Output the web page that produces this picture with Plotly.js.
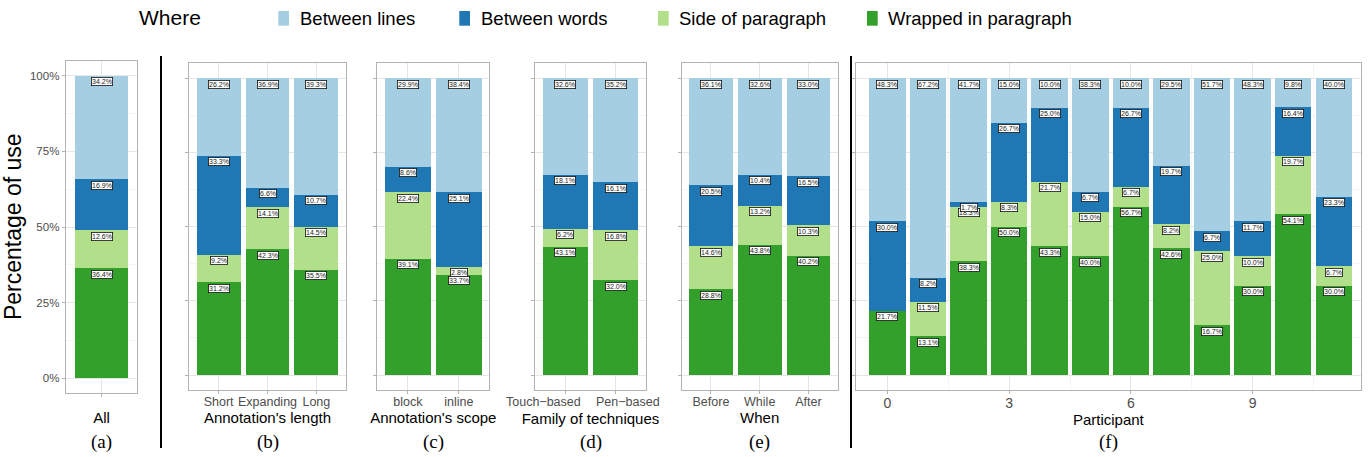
<!DOCTYPE html>
<html><head><meta charset="utf-8">
<script src="https://cdn.plot.ly/plotly-3.0.1.min.js"></script>
<style>html,body{margin:0;padding:0;background:#fff}#chart{width:1369px;height:457px}</style>
</head><body><div id="chart"></div>
<script>
// ---------- data ----------
const seriesNames = ['Wrapped in paragraph', 'Side of paragraph', 'Between words', 'Between lines']; // bottom -> top
const legendOrder = ['Between lines', 'Between words', 'Side of paragraph', 'Wrapped in paragraph'];
const seriesColors = {'Wrapped in paragraph':'#33a02c','Side of paragraph':'#b2df8a','Between words':'#1f78b4','Between lines':'#a6cee3'};

const catA = ['All'];
const wrappedA = [36.4];
const sideA    = [12.6];
const wordsA   = [16.9];
const linesA   = [34.2];

const catB = ['Short', 'Expanding', 'Long'];
const wrappedB = [31.2, 42.3, 35.5];
const sideB    = [9.2, 14.1, 14.5];
const wordsB   = [33.3, 6.6, 10.7];
const linesB   = [26.2, 36.9, 39.3];

const catC = ['block', 'inline'];
const wrappedC = [39.1, 33.7];
const sideC    = [22.4, 2.8];
const wordsC   = [8.6, 25.1];
const linesC   = [29.9, 38.4];

const catD = ['Touch\u2212based', 'Pen\u2212based'];
const wrappedD = [43.1, 32.0];
const sideD    = [6.2, 16.8];
const wordsD   = [18.1, 16.1];
const linesD   = [32.6, 35.2];

const catE = ['Before', 'While', 'After'];
const wrappedE = [28.8, 43.8, 40.2];
const sideE    = [14.6, 13.2, 10.3];
const wordsE   = [20.5, 10.4, 16.5];
const linesE   = [36.1, 32.6, 33.0];

const participants = [0, 1, 2, 3, 4, 5, 6, 7, 8, 9, 10, 11];
const wrappedF = [21.7, 13.1, 38.3, 50.0, 43.3, 40.0, 56.7, 42.6, 16.7, 30.0, 54.1, 30.0];
const sideF    = [0, 11.5, 18.3, 8.3, 21.7, 15.0, 6.7, 8.2, 25.0, 10.0, 19.7, 6.7];
const wordsF   = [30.0, 8.2, 1.7, 26.7, 25.0, 6.7, 26.7, 19.7, 6.7, 11.7, 16.4, 23.3];
const linesF   = [48.3, 67.2, 41.7, 15.0, 10.0, 38.3, 10.0, 29.5, 51.7, 48.3, 9.8, 40.0];
const participantTicks = [0, 3, 6, 9];
const percentTicks = [0, 25, 50, 75, 100];

const axisTitles = ['All', "Annotation's length", "Annotation's scope", 'Family of techniques', 'When', 'Participant'];
const panelTags = ['(a)', '(b)', '(c)', '(d)', '(e)', '(f)'];

// ---------- layout geometry (pixels) ----------
const W = 1369, H = 457;
const fx = p => p / W, fy = p => 1 - p / H;
const panels = [
  {cats: catA, vals: [wrappedA, sideA, wordsA, linesA], box: [65.7, 137.3, 60.7, 392.7], yr: [-4.76, 104.96], standoff: 16},
  {cats: catB, vals: [wrappedB, sideB, wordsB, linesB], box: [189.3, 345.7, 63, 390], yr: [-5.05, 105.05], standoff: 0},
  {cats: catC, vals: [wrappedC, sideC, wordsC, linesC], box: [377.3, 489.3, 63, 390], yr: [-5.05, 105.05], standoff: 0},
  // tick labels of (d) are nudged apart (as in the reference) so they do not collide
  {cats: catD, vals: [wrappedD, sideD, wordsD, linesD], box: [535.3, 645.7, 63, 390], yr: [-5.05, 105.05], standoff: 20,
   nudged: [{x: 0.35, anchor: 'right'}, {x: 0.57, anchor: 'left'}]},
  {cats: catE, vals: [wrappedE, sideE, wordsE, linesE], box: [681.7, 837.7, 63, 390], yr: [-5.05, 105.05], standoff: 0},
  {cats: participants, vals: [wrappedF, sideF, wordsF, linesF], box: [855.7, 1361, 63, 390], yr: [-5.05, 105.05], standoff: 0, linear: true}
];

const FONT = 'Liberation Sans, Arial, Helvetica, sans-serif';
const GRID = '#e6e6e6', MINOR = '#eeeeee', BORDER = '#b3b3b3', TICKTXT = '#4d4d4d';

const data = [];
const layout = {
  width: W, height: H,
  margin: {l: 0, r: 0, t: 0, b: 0, pad: 0},
  paper_bgcolor: '#fff', plot_bgcolor: '#fff',
  barmode: 'stack', barnorm: 'percent', bargap: 0.1,
  showlegend: false,
  font: {family: FONT, color: '#000'},
  annotations: [], shapes: []
};

panels.forEach((p, i) => {
  const s = i === 0 ? '' : String(i + 1);
  const xa = 'x' + s, ya = 'y' + s;
  p.vals.forEach((v, k) => {
    data.push({
      type: 'bar', x: p.cats, y: v, xaxis: xa, yaxis: ya,
      name: seriesNames[k], marker: {color: seriesColors[seriesNames[k]], line: {width: 0}},
      hoverinfo: 'skip'
    });
  });
  p.cats.forEach((c, j) => {
    const total = p.vals.reduce((a, v) => a + v[j], 0);
    let cum = 0;
    p.vals.forEach(v => {
      cum += v[j];
      if (v[j] > 0) {
        layout.annotations.push({
          xref: xa, yref: ya, x: c, y: cum / total * 100, yanchor: 'top', xanchor: 'center', yshift: -1.5,
          text: v[j].toFixed(1) + '%', showarrow: false,
          font: {size: 7, family: FONT, color: '#222'},
          bgcolor: '#fff', bordercolor: '#111', borderwidth: 0.8, borderpad: 0.3
        });
      }
    });
  });
  const [x0, x1, y0, y1] = p.box;
  const n = p.cats.length;
  const showTL = i !== 0 && !p.nudged;
  const xa_cfg = {
    domain: [fx(x0), fx(x1)], anchor: ya,
    type: p.linear ? 'linear' : 'category',
    range: p.linear ? [-0.78, 11.67] : [-0.6, n - 0.4],
    showline: true, mirror: true, linecolor: BORDER, linewidth: 1,
    showgrid: true, gridcolor: GRID, gridwidth: 1, zeroline: false,
    ticks: 'outside', ticklen: 3, tickcolor: BORDER, tickwidth: 1, tickangle: 0,
    ticklabelstandoff: -3,
    showticklabels: showTL,
    tickfont: {size: p.linear ? 14 : 12.5, color: TICKTXT, family: FONT},
    title: {text: axisTitles[i], font: {size: 15, color: '#000', family: FONT}, standoff: p.standoff},
    fixedrange: true
  };
  if (p.linear) {
    xa_cfg.tickmode = 'array';
    xa_cfg.tickvals = participantTicks;
    xa_cfg.minor = {dtick: 1.5, tick0: 0, showgrid: true, gridcolor: MINOR, gridwidth: 0.6};
  }
  if (p.nudged) {
    p.cats.forEach((c, j) => layout.annotations.push({
      xref: xa, yref: 'paper', x: p.nudged[j].x, y: fy(402), xanchor: p.nudged[j].anchor, yanchor: 'middle',
      text: c, showarrow: false, font: {size: 12.5, color: TICKTXT, family: FONT}
    }));
  }
  layout['xaxis' + s] = xa_cfg;
  layout['yaxis' + s] = {
    domain: [fy(y1), fy(y0)], anchor: xa,
    range: p.yr, tickmode: 'array', tickvals: percentTicks, ticktext: percentTicks.map(t => t + '%'),
    showline: true, mirror: true, linecolor: BORDER, linewidth: 1,
    showgrid: true, gridcolor: GRID, gridwidth: 1, zeroline: false,
    minor: {dtick: 12.5, tick0: 0, showgrid: true, gridcolor: MINOR, gridwidth: 0.6},
    ticks: 'outside', ticklen: 3, tickcolor: BORDER, tickwidth: 1,
    showticklabels: i === 0,
    tickfont: {size: 11.5, color: TICKTXT, family: FONT},
    title: i === 0 ? {text: 'Percentage of use', font: {size: 23, color: '#000', family: FONT}, standoff: 5} : {text: ''},
    fixedrange: true
  };
  layout.annotations.push({
    xref: 'paper', yref: 'paper', x: fx((x0 + x1) / 2), y: fy(441.5), xanchor: 'center', yanchor: 'middle',
    text: panelTags[i], showarrow: false, font: {size: 19, family: 'Liberation Serif, Times New Roman, serif', color: '#000'}
  });
});

[161, 851].forEach(x => layout.shapes.push({
  type: 'line', xref: 'paper', yref: 'paper', x0: fx(x), x1: fx(x), y0: fy(56), y1: fy(448),
  line: {color: '#000', width: 2}
}));

layout.annotations.push({
  xref: 'paper', yref: 'paper', x: fx(136.7), y: fy(18), xanchor: 'left', yanchor: 'middle',
  text: 'Where', showarrow: false, font: {size: 21, family: FONT, color: '#000'}
});
const keyLeft = [278.3, 459.3, 658, 867];
legendOrder.forEach((name, k) => {
  layout.shapes.push({
    type: 'rect', xref: 'paper', yref: 'paper', x0: fx(keyLeft[k]), x1: fx(keyLeft[k] + 10.7),
    y0: fy(25.7), y1: fy(11), fillcolor: seriesColors[name], line: {width: 0}
  });
  layout.annotations.push({
    xref: 'paper', yref: 'paper', x: fx(keyLeft[k] + 19.4), y: fy(18.3), xanchor: 'left', yanchor: 'middle',
    text: name, showarrow: false, font: {size: 18.5, family: FONT, color: '#000'}
  });
});

Plotly.newPlot('chart', data, layout, {staticPlot: true, displayModeBar: false});
</script></body></html>
